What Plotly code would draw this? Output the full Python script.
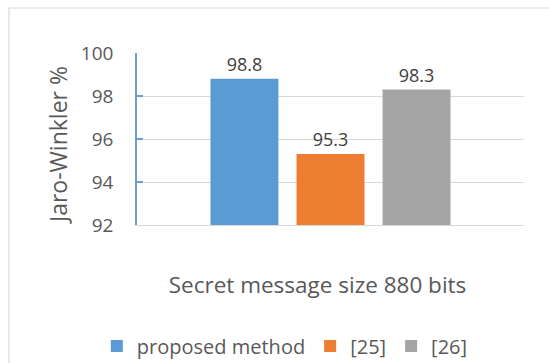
import plotly.graph_objects as go

# Chart data
category = ["Secret message size 880 bits"]
series_names = ["proposed method", "[25]", "[26]"]
proposed_method = [98.8]
ref_25 = [95.3]
ref_26 = [98.3]
y_ticks = [92, 94, 96, 98, 100]
y_title = "Jaro-Winkler %"

colors = ["#5b9bd5", "#ed7d31", "#a5a5a5"]
font_family = "Open Sans, Noto Sans, sans-serif"
text_grey = "#595959"

W, H = 549, 363
ml, mr, mt, mb = 137, 25, 53, 138

fig = go.Figure()
for name, vals, col in zip(series_names, [proposed_method, ref_25, ref_26], colors):
    fig.add_trace(go.Bar(
        x=category, y=vals, name=name,
        marker=dict(color=col, line=dict(width=0)),
        text=[f"{v:.1f}" for v in vals],
        textposition="outside",
        constraintext="none",
        cliponaxis=False,
        textfont=dict(family=font_family, size=18, color="#404040"),
    ))

# helpers to place items in pixel terms relative to the plot area
pw = W - ml - mr
ph = H - mt - mb
def px_to_paper_x(px):
    return (px - ml) / pw
def px_to_paper_y(py):
    return (H - mb - py) / ph

# outer chart frame
fig.add_shape(
    type="rect", xref="paper", yref="paper",
    x0=px_to_paper_x(9), x1=px_to_paper_x(600),
    y0=px_to_paper_y(420), y1=px_to_paper_y(8),
    line=dict(color="#d9d9d9", width=1.2), fillcolor="rgba(0,0,0,0)",
    layer="below",
)

# vertical axis title
fig.add_annotation(
    text=y_title, textangle=-90, showarrow=False,
    xref="paper", yref="paper",
    x=px_to_paper_x(58), y=px_to_paper_y(145),
    xanchor="center", yanchor="middle",
    font=dict(family=font_family, size=23, color=text_grey),
)

fig.update_layout(
    width=W, height=H,
    margin=dict(l=ml, r=mr, t=mt, b=mb, autoexpand=False),
    paper_bgcolor="white", plot_bgcolor="white",
    barmode="group", bargap=0.333, bargroupgap=0.21,
    font=dict(family=font_family, color=text_grey),
    showlegend=True,
    legend=dict(
        orientation="h", x=0.382, xanchor="center",
        y=px_to_paper_y(346), yanchor="middle",
        font=dict(family=font_family, size=20, color=text_grey),
        bgcolor="rgba(0,0,0,0)", itemclick=False,
    ),
    xaxis=dict(
        showgrid=False, showline=True, linecolor="#d9d9d9", linewidth=1,
        ticks="", tickfont=dict(family=font_family, size=22.5, color=text_grey),
        ticklabelstandoff=40, ticklabelshift=-13,
    ),
    yaxis=dict(
        range=[92, 100], tickvals=y_ticks,
        showgrid=True, gridcolor="#d9d9d9", gridwidth=1,
        showline=True, linecolor="#6a9fd4", linewidth=1.5,
        ticks="inside", ticklen=6, tickcolor="#6a9fd4", tickwidth=1.5,
        tickfont=dict(family=font_family, size=19, color=text_grey),
        ticklabelstandoff=18,
        zeroline=False,
    ),
)

fig.write_html("out.html")
